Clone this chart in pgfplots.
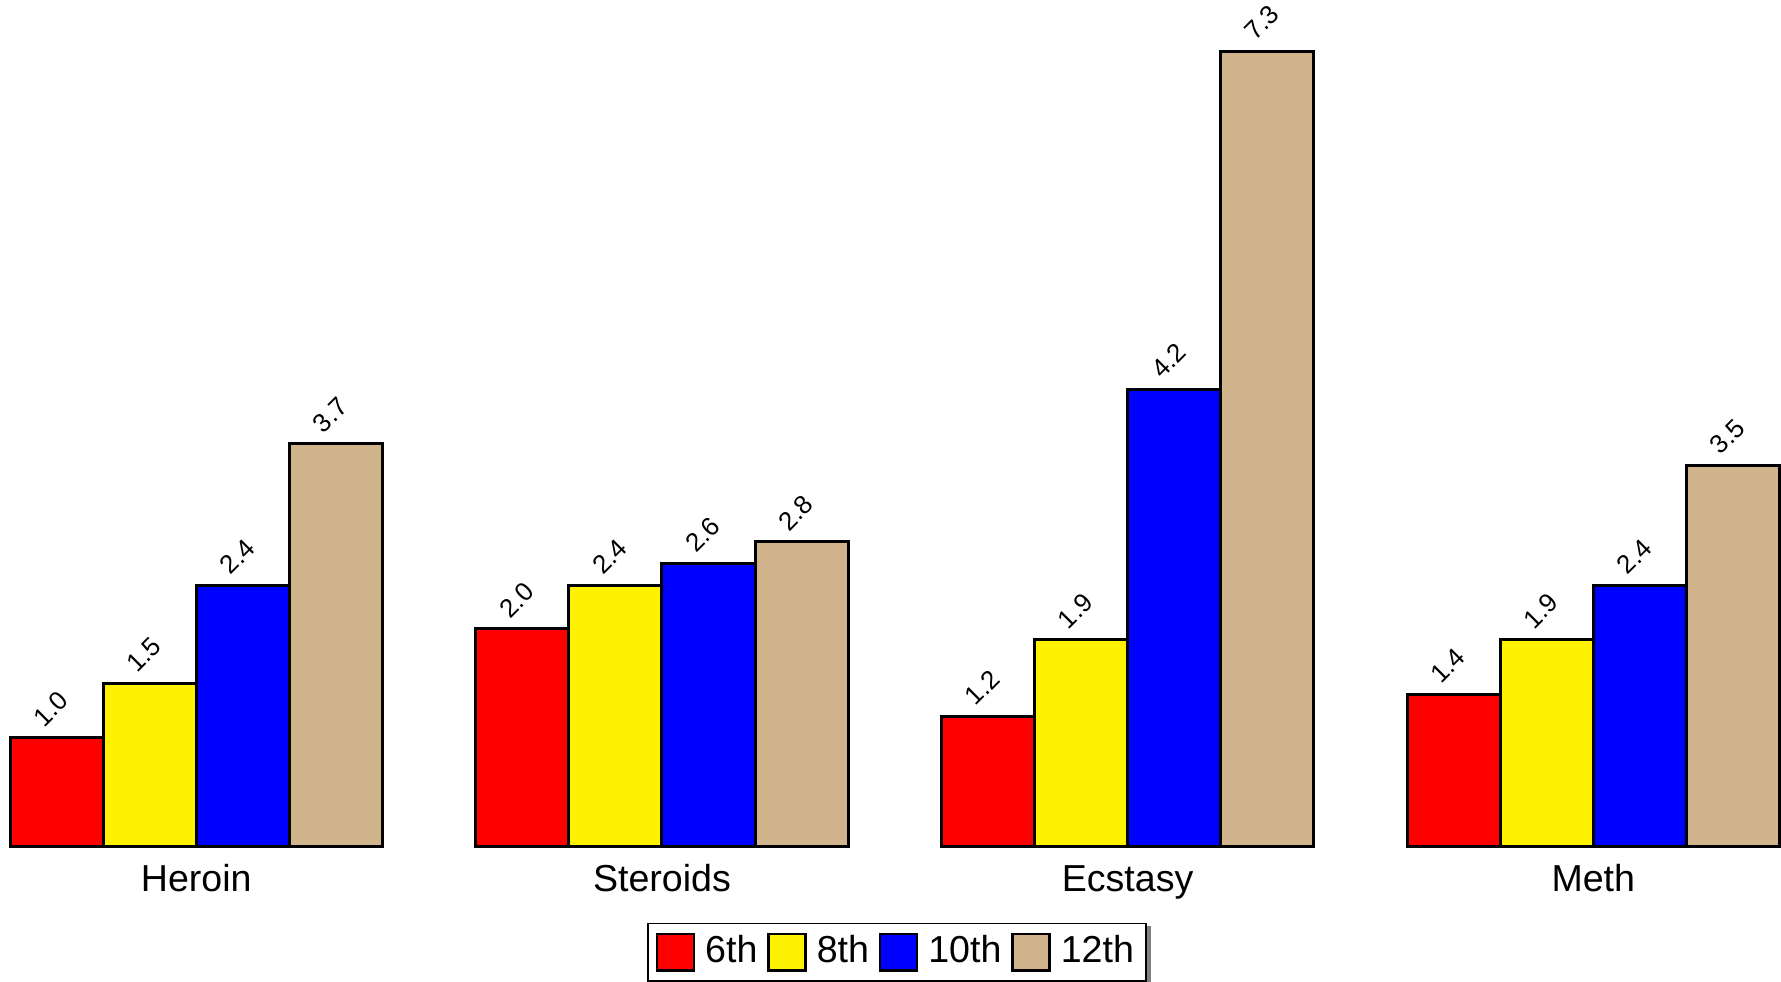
\documentclass[border=0pt]{standalone}
\usepackage{fontspec}
\setmainfont{Liberation Sans}
\usepackage{pgfplots}
\pgfplotsset{compat=1.18}
\usetikzlibrary{backgrounds}
\definecolor{tanbar}{RGB}{210,180,140}
\begin{document}
\begin{tikzpicture}
\begin{axis}[
    x=116.5pt, y=27.25pt,
    xmin=-0.4215, xmax=3.4,
    ymin=0, ymax=7.77,
    clip=false,
    axis line style={draw=none},
    major tick length=0pt,
    ytick=\empty,
    xtick={0,1,2,3},
    xticklabels={Heroin,Steroids,Ecstasy,Meth},
    xticklabel style={font=\fontsize{9.4}{11}\selectfont, text height=0.73em, text depth=0.21em, yshift=-0.25pt},
    ybar, bar width=0.2,
    every axis plot/.append style={draw=black, line width=0.75pt},
    nodes near coords,
    nodes near coords style={font=\fontsize{6.5}{7}\selectfont, text=black, overlay,
        /pgf/number format/fixed, /pgf/number format/fixed zerofill,
        /pgf/number format/precision=1, /pgf/number format/assume math mode=true,
        xshift=-1.4pt, yshift=7.2pt, rotate=45, anchor=center},
    legend image code/.code={\draw[#1, line width=0.6pt] (0pt,-4.6pt) rectangle (9.25pt,4.6pt);},
    legend columns=-1,
    legend style={name=leg, at={(0.504,-0.0898)}, anchor=north, draw=black, line width=0.4pt,
        fill=white, font=\fontsize{9.4}{11}\selectfont,
        nodes={inner sep=1pt},
        /tikz/every odd column/.append style={column sep=1.5pt},
        /tikz/every even column/.append style={column sep=1.5pt},
        inner sep=2pt},
]
\addplot[fill=red, bar shift=-0.3] coordinates {(0,1.0) (1,2.0) (2,1.2) (3,1.4)};
\addplot[fill=yellow, bar shift=-0.1] coordinates {(0,1.5) (1,2.4) (2,1.9) (3,1.9)};
\addplot[fill=blue, bar shift=0.1] coordinates {(0,2.4) (1,2.6) (2,4.2) (3,2.4)};
\addplot[fill=tanbar, bar shift=0.3] coordinates {(0,3.7) (1,2.8) (2,7.3) (3,3.5)};
\legend{6th,8th,10th,12th}
\end{axis}
\begin{scope}[on background layer]
\fill[black!50, overlay] ([xshift=1.1pt,yshift=-0.8pt]leg.south west) rectangle ([xshift=1.1pt,yshift=-0.8pt]leg.north east);
\end{scope}
\end{tikzpicture}
\end{document}
